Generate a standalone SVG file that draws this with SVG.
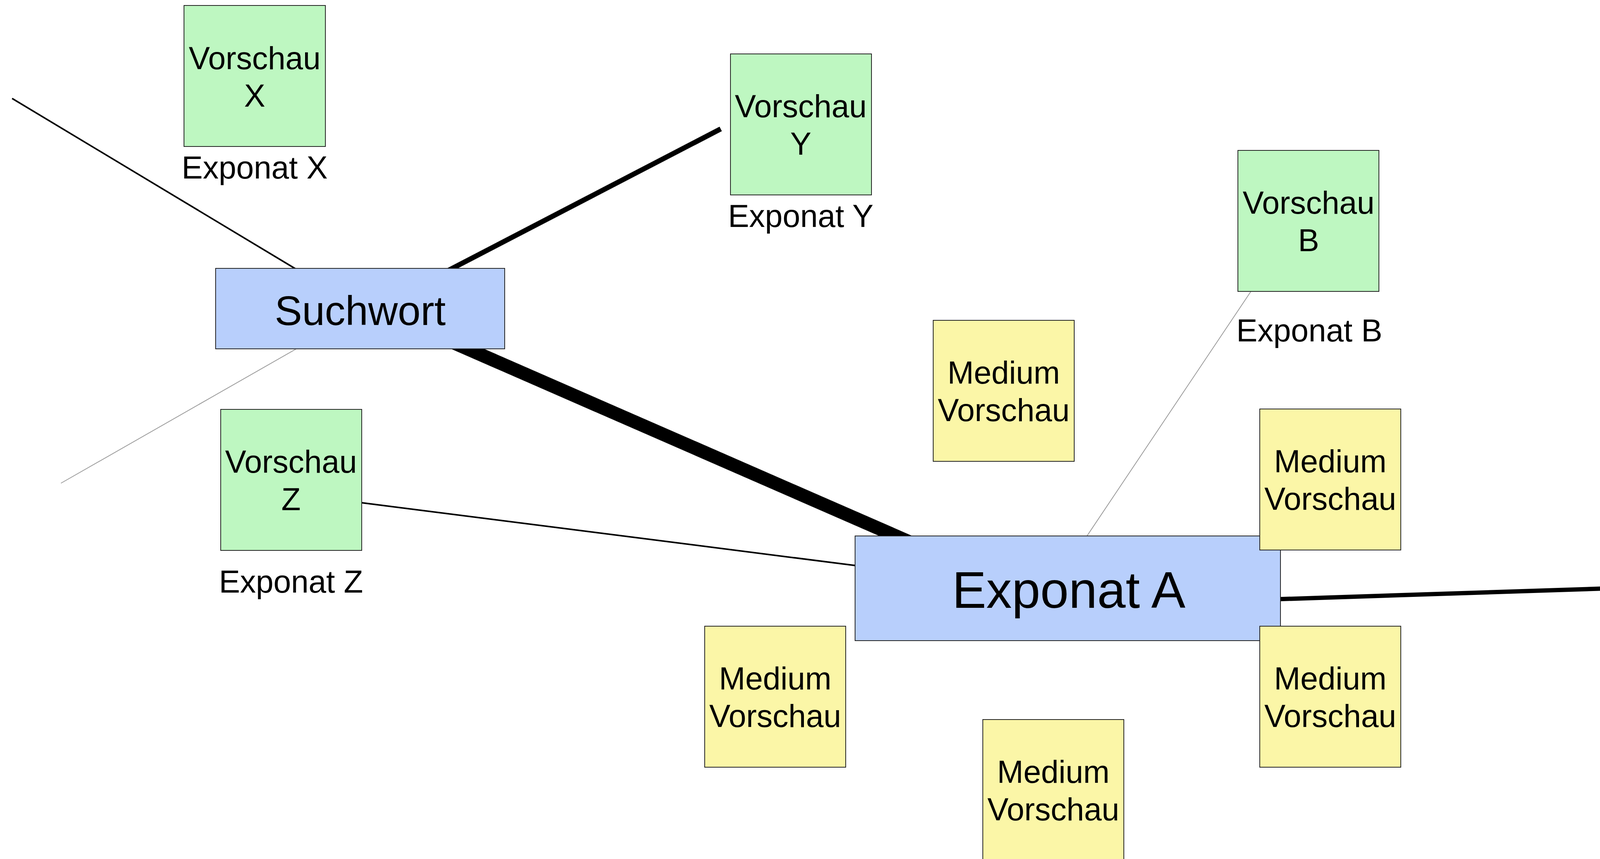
<svg xmlns="http://www.w3.org/2000/svg" width="4603" height="2199" viewBox="0 0 4603 2199">
<style>
  text { font-family: "Liberation Sans", Arial, sans-serif; fill: #000; text-anchor: middle; }
  .lbl { font-size: 81px; }
  .box { stroke: #222; stroke-width: 2; }
  .green { fill: #BEF7C1; }
  .yellow { fill: #FBF6A7; }
  .blue { fill: #B8CFFC; }
  .ln { stroke: #000; fill: none; stroke-linecap: butt; }
  .gray { stroke: #9A9A9A; stroke-width: 2; fill: none; }
</style>
<rect width="4603" height="2199" fill="#fff"/>
<g id="connectors">
  <line class="ln" x1="31" y1="252" x2="778" y2="701" stroke-width="4"/>
  <line class="ln" x1="1131" y1="701" x2="1845" y2="330" stroke-width="13"/>
  <line class="ln" x1="1160" y1="877" x2="2330" y2="1388" stroke-width="34"/>
  <line class="gray" x1="776" y1="883" x2="156" y2="1237"/>
  <line class="ln" x1="926" y1="1287" x2="2200" y2="1449" stroke-width="4"/>
  <line class="gray" x1="3203" y1="745" x2="2776" y2="1382"/>
  <line class="ln" x1="3268" y1="1534" x2="4170" y2="1504.5" stroke-width="11"/>
</g>
<g id="vorschau-x">
  <rect class="box green" x="471" y="14" width="362" height="361"/>
  <text class="lbl" x="652" y="177">Vorschau</text>
  <text class="lbl" x="652" y="273">X</text>
  <text class="lbl" x="652" y="457">Exponat X</text>
</g>
<g id="vorschau-y">
  <rect class="box green" x="1870" y="138" width="361" height="361"/>
  <text class="lbl" x="2050" y="300">Vorschau</text>
  <text class="lbl" x="2050" y="396">Y</text>
  <text class="lbl" x="2050" y="581">Exponat Y</text>
</g>
<g id="vorschau-b">
  <rect class="box green" x="3169" y="385" width="361" height="361"/>
  <text class="lbl" x="3350" y="547">Vorschau</text>
  <text class="lbl" x="3350" y="643">B</text>
  <text class="lbl" x="3352" y="874">Exponat B</text>
</g>
<g id="suchwort">
  <rect class="box blue" x="552" y="687" width="740" height="206"/>
  <text x="922" y="832" font-size="105">Suchwort</text>
</g>
<g id="vorschau-z">
  <rect class="box green" x="565" y="1048" width="361" height="361"/>
  <text class="lbl" x="745" y="1210">Vorschau</text>
  <text class="lbl" x="745" y="1306">Z</text>
  <text class="lbl" x="745" y="1517">Exponat Z</text>
</g>
<g id="vorschau-c">
  <rect class="box green" x="4169" y="1316" width="361" height="361"/>
  <text class="lbl" x="4350" y="1478">Vorschau</text>
  <text class="lbl" x="4350" y="1573">C</text>
  <text class="lbl" x="4350" y="1809">Exponat C</text>
</g>
<g id="medium-top">
  <rect class="box yellow" x="2389" y="820" width="361" height="361"/>
  <text class="lbl" x="2569.5" y="982">Medium</text>
  <text class="lbl" x="2569.5" y="1078">Vorschau</text>
</g>
<g id="exponat-a">
  <rect class="box blue" x="2189" y="1372" width="1089" height="268"/>
  <text x="2736" y="1556" font-size="131">Exponat A</text>
</g>
<g id="medium-right-upper">
  <rect class="box yellow" x="3225" y="1047" width="361" height="361"/>
  <text class="lbl" x="3405.5" y="1209">Medium</text>
  <text class="lbl" x="3405.5" y="1305">Vorschau</text>
</g>
<g id="medium-right-lower">
  <rect class="box yellow" x="3225" y="1603" width="361" height="361"/>
  <text class="lbl" x="3405.5" y="1765">Medium</text>
  <text class="lbl" x="3405.5" y="1861">Vorschau</text>
</g>
<g id="medium-left">
  <rect class="box yellow" x="1804" y="1603" width="361" height="361"/>
  <text class="lbl" x="1984.5" y="1765">Medium</text>
  <text class="lbl" x="1984.5" y="1861">Vorschau</text>
</g>
<g id="medium-bottom">
  <rect class="box yellow" x="2516" y="1842" width="361" height="361"/>
  <text class="lbl" x="2696.5" y="2004">Medium</text>
  <text class="lbl" x="2696.5" y="2100">Vorschau</text>
</g>
</svg>
